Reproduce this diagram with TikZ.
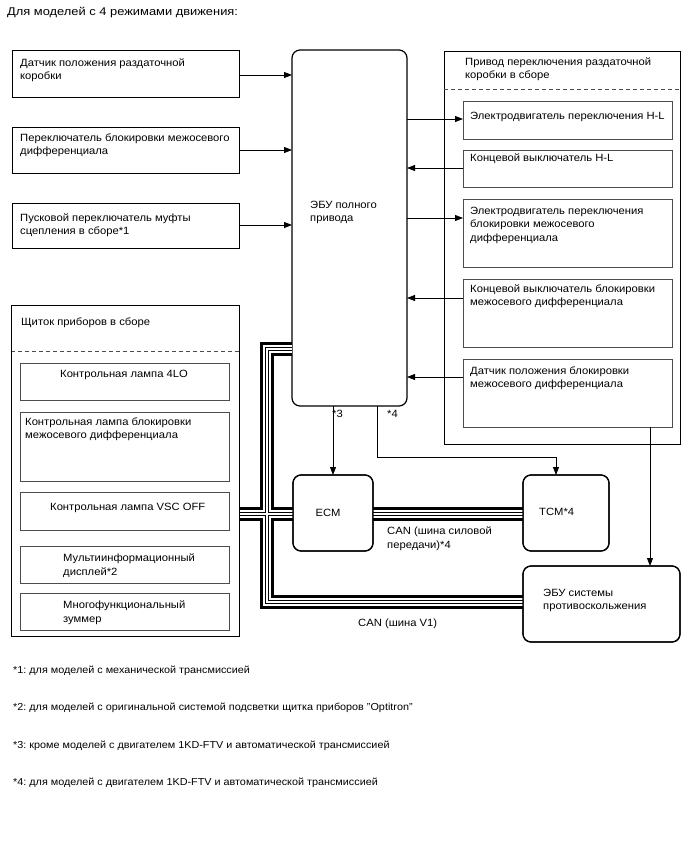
\documentclass[tikz,border=0pt]{standalone}
\usepackage{fontspec}
\setmainfont[FakeStretch=1.07]{Liberation Sans}
\newfontfamily\titlefont[FakeStretch=1.15]{Liberation Sans}
\usetikzlibrary{arrows.meta,calc}
\frenchspacing
\begin{document}
\begin{tikzpicture}[x=1pt,y=-1pt,
  box/.style={draw, line width=0.9pt, anchor=north west, inner sep=0pt, outer sep=0pt},
  ibox/.style={box, draw=black!70, line width=0.8pt},
  rbox/.style={box, rounded corners=8pt, line width=1.2pt},
  lbl/.style={inner sep=0pt, font=\fontsize{10.5}{13.5}\selectfont},
  txt/.style={lbl, anchor=north west, align=left, yshift=-1.5pt},
  foot/.style={anchor=west, inner sep=0pt, font=\fontsize{10.1}{13}\selectfont},
  arr/.style={-{Triangle[length=8pt,width=6pt]}, line width=0.8pt},
  sepline/.style={draw=black!70, dashed, dash pattern=on 4pt off 3pt, line width=0.7pt}
]
\useasboundingbox (0,0) rectangle (688,852);

% ---- title
\node[anchor=west, inner sep=0pt, font=\titlefont\fontsize{11.2}{13}\selectfont] (title) at (7,12.5) {Для моделей с 4 режимами движения:};

% ---- left inputs
\node[box, minimum width=227pt, minimum height=47pt] (b1) at (12,50) {};
\node[txt] (b1t) at (20,57) {Датчик положения раздаточной\\коробки};
\node[box, minimum width=227pt, minimum height=46pt] (b2) at (12,127) {};
\node[txt] (b2t) at (20,132) {Переключатель блокировки межосевого\\дифференциала};
\node[box, minimum width=227pt, minimum height=45pt] (b3) at (12,203) {};
\node[txt] (b3t) at (20,212) {Пусковой переключатель муфты\\сцепления в сборе*1};

% ---- ECU
\node[rbox, minimum width=115pt, minimum height=356pt] (ecu) at (292,50) {};
\node[txt] (ecut) at (310,199) {ЭБУ полного\\привода};

% ---- right group
\node[box, minimum width=236pt, minimum height=393pt] (tf) at (444,51) {};
\node[txt] (tft) at (465,56) {Привод переключения раздаточной\\коробки в сборе};
\coordinate (tfd) at (444,89);
\draw[sepline] (tfd) -- (tfd -| tf.east);
\node[ibox, minimum width=209pt, minimum height=38pt] (r1) at (463,101) {};
\node[txt] (r1t) at (470,110) {Электродвигатель переключения H-L};
\node[ibox, minimum width=209pt, minimum height=37pt] (r2) at (463,150) {};
\node[txt] (r2t) at (470,152) {Концевой выключатель H-L};
\node[ibox, minimum width=209pt, minimum height=68pt] (r3) at (463,199) {};
\node[txt] (r3t) at (470,205) {Электродвигатель переключения\\блокировки межосевого\\дифференциала};
\node[ibox, minimum width=209pt, minimum height=68pt] (r4) at (463,279) {};
\node[txt] (r4t) at (470,283) {Концевой выключатель блокировки\\межосевого дифференциала};
\node[ibox, minimum width=209pt, minimum height=68pt] (r5) at (463,359) {};
\node[txt] (r5t) at (470,365) {Датчик положения блокировки\\межосевого дифференциала};

% ---- cluster
\node[box, minimum width=228pt, minimum height=331pt] (clu) at (11,305) {};
\node[txt] (clut) at (21,316) {Щиток приборов в сборе};
\coordinate (clud) at (11,351);
\draw[sepline] (clud) -- (clud -| clu.east);
\node[ibox, minimum width=209pt, minimum height=37pt] (c1) at (20,363) {};
\node[txt] (c1t) at (60,368) {Контрольная лампа 4LO};
\node[ibox, minimum width=209pt, minimum height=69pt] (c2) at (20,412) {};
\node[txt] (c2t) at (25,416) {Контрольная лампа блокировки\\межосевого дифференциала};
\node[ibox, minimum width=209pt, minimum height=38pt] (c3) at (20,492) {};
\node[txt] (c3t) at (50,501) {Контрольная лампа VSC OFF};
\node[ibox, minimum width=209pt, minimum height=37pt] (c4) at (20,546) {};
\node[txt] (c4t) at (63,552) {Мультиинформационный\\дисплей*2};
\node[ibox, minimum width=209pt, minimum height=37pt] (c5) at (20,593) {};
\node[txt] (c5t) at (63,599) {Многофункциональный\\зуммер};

% ---- ECM, TCM, ABS
\coordinate (j1) at (267,349);
\coordinate (j2) at (267,602);
\coordinate (j3) at (267,514);
\node[rbox, minimum width=80pt, minimum height=76pt] (ecm) at (293,475) {};
\node[rbox, minimum width=86pt, minimum height=76pt] (tcm) at (523,475) {};
\node[rbox, minimum width=157pt, minimum height=76pt] (abs) at (523,566) {};

% ---- CAN buses (layered multi-line)
\foreach \w/\c in {14/black,8/white,4/black,2/white}{
  \draw[line width=\w pt, draw=\c, line join=miter, line cap=butt]
    (ecu.west |- j1) -- (j1) -- (j2) -- (abs.west |- j2);
  \draw[line width=\w pt, draw=\c, line cap=butt]
    (clu.east |- j3) -- (ecm.west |- j3);
  \draw[line width=\w pt, draw=\c, line cap=butt]
    (ecm.east |- j3) -- (tcm.west |- j3);
}
% redraw box borders over bus ends
\draw[rounded corners=8pt, line width=1.2pt] (ecm.north west) rectangle (ecm.south east);
\draw[rounded corners=8pt, line width=1.2pt] (tcm.north west) rectangle (tcm.south east);
\draw[rounded corners=8pt, line width=1.2pt] (abs.north west) rectangle (abs.south east);
\draw[line width=0.9pt] (clu.north west) rectangle (clu.south east);

\node[lbl, anchor=center] (ecmt) at (328,513) {ECM};
\node[lbl, anchor=west] (tcmt) at (539,512) {TCM*4};
\node[txt] (abst) at (543,587) {ЭБУ системы\\противоскольжения};
\node[txt] (can1) at (387,525) {CAN (шина силовой\\передачи)*4};
\node[txt] (can2) at (358,617) {CAN (шина V1)};

% ---- arrows left -> ECU
\draw[arr] (b1.east |- 0,75) -- (ecu.west |- 0,75);
\draw[arr] (b2.east |- 0,150) -- (ecu.west |- 0,150);
\draw[arr] (b3.east |- 0,225) -- (ecu.west |- 0,225);

% ---- arrows ECU <-> right
\draw[arr] (ecu.east |- 0,119) -- (r1.west |- 0,119);
\draw[arr] (r2.west |- 0,168) -- (ecu.east |- 0,168);
\draw[arr] (ecu.east |- 0,218) -- (r3.west |- 0,218);
\draw[arr] (r4.west |- 0,298) -- (ecu.east |- 0,298);
\draw[arr] (r5.west |- 0,377) -- (ecu.east |- 0,377);

% ---- R5 -> ABS
\draw[arr] (r5.south -| 650,0) -- (abs.north -| 650,0);

% ---- ECU -> ECM (*3), ECU -> TCM (*4)
\draw[arr] (ecu.south -| ecm.north) -- (ecm.north);
\coordinate (k1) at (377,457);
\coordinate (k2) at (556,457);
\draw[arr] (ecu.south -| k1) -- (k1) -- (k2) -- (tcm.north -| k2);
\node[lbl, anchor=west] (s3) at (332,414) {*3};
\node[lbl, anchor=west] (s4) at (387,414) {*4};

% ---- footnotes
\node[foot] (f1) at (13,671) {*1: для моделей с механической трансмиссией};
\node[foot] (f2) at (13,708) {*2: для моделей с оригинальной системой подсветки щитка приборов "Optitron"};
\node[foot] (f3) at (13,746) {*3: кроме моделей с двигателем 1KD-FTV и автоматической трансмиссией};
\node[foot] (f4) at (13,783) {*4: для моделей с двигателем 1KD-FTV и автоматической трансмиссией};
\end{tikzpicture}
\end{document}
